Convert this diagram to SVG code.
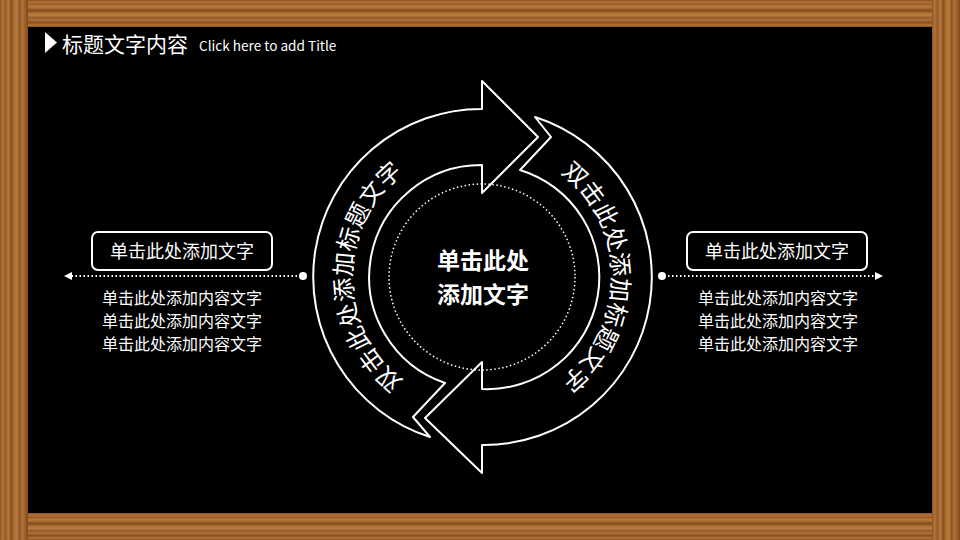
<svg xmlns="http://www.w3.org/2000/svg" width="960" height="540" viewBox="0 0 960 540">
  <defs>
    <linearGradient id="woodH" x1="0" y1="0" x2="0" y2="1">
      <stop offset="0" stop-color="#8a5220"/>
      <stop offset="0.08" stop-color="#b27338"/>
      <stop offset="0.16" stop-color="#9a5d26"/>
      <stop offset="0.24" stop-color="#b8793c"/>
      <stop offset="0.32" stop-color="#a3652c"/>
      <stop offset="0.40" stop-color="#7f4a1c"/>
      <stop offset="0.48" stop-color="#ad6f34"/>
      <stop offset="0.58" stop-color="#b97b3e"/>
      <stop offset="0.66" stop-color="#93582a"/>
      <stop offset="0.74" stop-color="#b07236"/>
      <stop offset="0.84" stop-color="#85501f"/>
      <stop offset="0.92" stop-color="#b27438"/>
      <stop offset="1" stop-color="#8e5522"/>
    </linearGradient>
    <linearGradient id="woodV" x1="0" y1="0" x2="1" y2="0">
      <stop offset="0" stop-color="#8e5522"/>
      <stop offset="0.1" stop-color="#b47538"/>
      <stop offset="0.2" stop-color="#94592a"/>
      <stop offset="0.3" stop-color="#b8793c"/>
      <stop offset="0.4" stop-color="#84501f"/>
      <stop offset="0.5" stop-color="#ad6f34"/>
      <stop offset="0.6" stop-color="#b97b3e"/>
      <stop offset="0.7" stop-color="#8f5626"/>
      <stop offset="0.8" stop-color="#b07236"/>
      <stop offset="0.9" stop-color="#9a5e28"/>
      <stop offset="1" stop-color="#7e4a1c"/>
    </linearGradient>
    <path id="arcL" d="M 482 407 A 130 130 0 0 1 482 147"/>
    <path id="arcR" d="M 482 147 A 130 130 0 0 1 482 407"/>
  </defs>
  <style>
    .cjk { font-family: "Noto Sans CJK SC", "Noto Sans", sans-serif; fill: #ffffff; }
    .outline { fill: none; stroke: #ffffff; stroke-width: 2; stroke-linejoin: round; }
    .dots { fill: none; stroke: #ffffff; stroke-width: 2; stroke-dasharray: 1.5 2.5; }
    .box { fill: none; stroke: #ffffff; stroke-width: 2; }
    .lbl { font-size: 18px; text-anchor: middle; }
    .body { font-size: 16px; text-anchor: middle; }
    .arc { font-size: 24px; }
    .mid { font-size: 23px; font-weight: bold; text-anchor: middle; }
  </style>

  <!-- board and frame -->
  <g id="frame">
    <rect x="0" y="0" width="960" height="540" fill="#000000"/>
    <rect x="0" y="0" width="960" height="27" fill="url(#woodH)"/>
    <rect x="0" y="513" width="960" height="27" fill="url(#woodH)"/>
    <rect x="0" y="0" width="28" height="540" fill="url(#woodV)"/>
    <rect x="932" y="0" width="28" height="540" fill="url(#woodV)"/>
    <rect x="28" y="27" width="904" height="486" fill="#000000"/>
  </g>

  <!-- title -->
  <g id="title">
    <polygon points="45,32 57,42.5 45,53" fill="#ffffff"/>
    <text class="cjk" x="62" y="52" font-size="21">标题文字内容</text>
    <text class="cjk" x="199" y="51" font-size="13.6">Click here to add Title</text>
  </g>

  <!-- cycle arrows -->
  <g id="arrow-left">
    <path class="outline" d="M 430 437 A 168 168 0 0 1 482 109 L 482 81 L 538 137 L 482 193 L 482 165 A 112 112 0 0 0 445 383 L 413 417 Z"/>
    <text class="cjk arc"><textPath href="#arcL" startOffset="50%" text-anchor="middle">双击此处添加标题文字</textPath></text>
  </g>
  <g id="arrow-right">
    <path class="outline" d="M 535 117 A 168 168 0 0 1 482 445 L 482 473 L 425 418 L 482 362 L 482 389 A 112 112 0 0 0 520 170 L 551 137 Z"/>
    <text class="cjk arc"><textPath href="#arcR" startOffset="50%" text-anchor="middle">双击此处添加标题文字</textPath></text>
  </g>

  <!-- center -->
  <g id="center">
    <circle cx="482" cy="277" r="93" fill="none" stroke="#ffffff" stroke-width="1.5" stroke-dasharray="1.5 2.5"/>
    <text class="cjk mid" x="483" y="269">单击此处</text>
    <text class="cjk mid" x="483" y="303">添加文字</text>
  </g>

  <!-- connectors -->
  <g id="connectors">
    <line class="dots" x1="301" y1="276" x2="72" y2="276"/>
    <polygon points="64,276 72,272 72,280" fill="#ffffff"/>
    <circle cx="303" cy="276" r="4" fill="#ffffff"/>
    <line class="dots" x1="664" y1="276" x2="875" y2="276"/>
    <polygon points="883,276 875,272 875,280" fill="#ffffff"/>
    <circle cx="662" cy="276" r="4" fill="#ffffff"/>
  </g>

  <!-- left label -->
  <g id="left-label">
    <rect class="box" x="92" y="232" width="180" height="38" rx="6"/>
    <text class="cjk lbl" x="182" y="258">单击此处添加文字</text>
    <text class="cjk body" x="182" y="304">单击此处添加内容文字</text>
    <text class="cjk body" x="182" y="327">单击此处添加内容文字</text>
    <text class="cjk body" x="182" y="350">单击此处添加内容文字</text>
  </g>

  <!-- right label -->
  <g id="right-label">
    <rect class="box" x="687" y="232" width="180" height="38" rx="6"/>
    <text class="cjk lbl" x="777" y="258">单击此处添加文字</text>
    <text class="cjk body" x="778" y="304">单击此处添加内容文字</text>
    <text class="cjk body" x="778" y="327">单击此处添加内容文字</text>
    <text class="cjk body" x="778" y="350">单击此处添加内容文字</text>
  </g>
</svg>
